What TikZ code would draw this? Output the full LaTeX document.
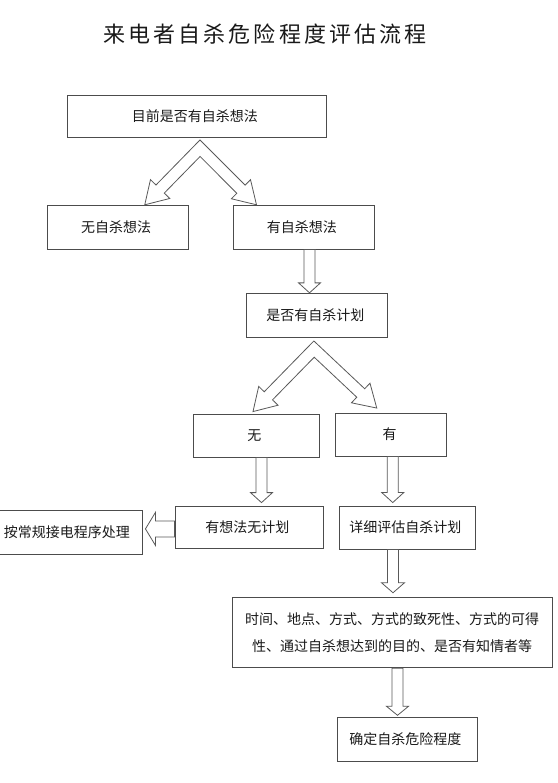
\documentclass[tikz,border=0pt]{standalone}
\usepackage{fontspec}
\newfontfamily\cjk{Noto Sans CJK SC}
\usetikzlibrary{calc}

% hollow block arrow: start, tip, half shaft, half head, head length
\newcommand{\blockarrow}[5]{%
  \coordinate (hb) at ($(#2)!#5!(#1)$);
  \draw [arrowbody] ($(#1)!#3!90:(#2)$) -- ($(hb)!#3!90:(#2)$) -- ($(hb)!#4!90:(#2)$) -- (#2)
    -- ($(hb)!#4!-90:(#2)$) -- ($(hb)!#3!-90:(#2)$) -- ($(#1)!#3!-90:(#2)$) -- cycle;
}

% two hollow arrows from one apex: apex, left tip, right tip
\newcommand{\forkarrow}[3]{%
  \coordinate (hl) at ($(#2)!22pt!(#1)$);
  \coordinate (hr) at ($(#3)!22pt!(#1)$);
  \coordinate (lo0) at ($(#1)!5.8pt!-90:(#2)$);
  \coordinate (lo1) at ($(hl)!5.8pt!-90:(#2)$);
  \coordinate (lo2) at ($(hl)!13.5pt!-90:(#2)$);
  \coordinate (li0) at ($(#1)!5.8pt!90:(#2)$);
  \coordinate (li1) at ($(hl)!5.8pt!90:(#2)$);
  \coordinate (li2) at ($(hl)!13.5pt!90:(#2)$);
  \coordinate (ro0) at ($(#1)!5.8pt!90:(#3)$);
  \coordinate (ro1) at ($(hr)!5.8pt!90:(#3)$);
  \coordinate (ro2) at ($(hr)!13.5pt!90:(#3)$);
  \coordinate (ri0) at ($(#1)!5.8pt!-90:(#3)$);
  \coordinate (ri1) at ($(hr)!5.8pt!-90:(#3)$);
  \coordinate (ri2) at ($(hr)!13.5pt!-90:(#3)$);
  \coordinate (outer) at (intersection of lo0--lo1 and ro0--ro1);
  \coordinate (inner) at (intersection of li0--li1 and ri0--ri1);
  \draw [arrowbody] (outer) -- (lo1) -- (lo2) -- (#2) -- (li2) -- (li1) -- (inner)
    -- (ri1) -- (ri2) -- (#3) -- (ro2) -- (ro1) -- cycle;
}

\begin{document}
\begin{tikzpicture}[x = 1pt, y = -1pt,
  every node/.style = {font = \cjk\fontsize{14}{14}\selectfont, text = black!90, inner sep = 2pt, align = center},
  box/.style = {draw = black!70, line width = 0.9pt},
  arrowbody/.style = {draw = black!65, line width = 0.8pt, fill = white}]

  \useasboundingbox (0, 0) rectangle (557, 783);
  \clip (0, 0) rectangle (557, 783);

  \node [font = \cjk\fontsize{22}{22}\selectfont\addfontfeature{LetterSpace=14}] (title) at (269, 34) { 来电者自杀危险程度评估流程 };

  \node [box, minimum width = 259pt, minimum height = 42.7pt] (q1) at (196.5, 116.4) { 目前是否有自杀想法 };

  \node [box, minimum width = 140.5pt, minimum height = 43.3pt] (no) at (117.75, 227.4) { 无自杀想法 };
  \node [box, minimum width = 141pt, minimum height = 43.3pt] (yes) at (303.5, 227.4) { 有自杀想法 };

  \node [box, minimum width = 141pt, minimum height = 44pt] (q2) at (317, 315.3) { 是否有自杀计划 };

  \node [box, minimum width = 126pt, minimum height = 43pt] (noplan) at (256, 435.5) { 无 };
  \node [box, minimum width = 111pt, minimum height = 43pt] (hasplan) at (391.25, 434.5) { 有 };

  \node [box, minimum width = 148pt, minimum height = 42.7pt] (thought) at (249, 527.4) { 有想法无计划 };
  \node [box, minimum width = 136pt, minimum height = 43pt] (assess) at (407, 527.5) { 详细评估自杀计划 };
  \node [box, minimum width = 147pt, minimum height = 43.3pt] (routine) at (68.5, 532.3) { 按常规接电程序处理 };

  \node [box, minimum width = 320pt, minimum height = 70pt, font = \cjk\fontsize{14}{27.3}\selectfont] (detail) at (392.2, 632.7)
    { 时间、地点、方式、方式的致死性、方式的可得\\性、通过自杀想达到的目的、是否有知情者等 };

  \node [box, minimum width = 140pt, minimum height = 43.3pt] (level) at (407, 739.4) { 确定自杀危险程度 };

  % first split
  \coordinate (m1) at ($(q1.south) + (3.5, 10)$);
  \coordinate (t1l) at ($(no.north) + (27, -0.5)$);
  \coordinate (t1r) at ($(yes.north) + (-47, -0.5)$);
  \forkarrow{m1}{t1l}{t1r}

  \coordinate (a1) at ($(yes.south) + (6, 0)$);
  \coordinate (b1) at (a1 |- q2.north);
  \blockarrow{a1}{b1}{5.5pt}{11pt}{10pt}

  % second split
  \coordinate (m2) at ($(q2.south) + (-3, 11.3)$);
  \coordinate (t2l) at ($(noplan.north) + (-3, -2)$);
  \coordinate (t2r) at ($(hasplan.north) + (-14.5, -4.5)$);
  \forkarrow{m2}{t2l}{t2r}

  \coordinate (a2) at ($(noplan.south) + (5.5, 0)$);
  \coordinate (b2) at ($(a2 |- thought.north) + (0, -3)$);
  \blockarrow{a2}{b2}{5.5pt}{11pt}{10pt}

  \coordinate (a3) at ($(hasplan.south) + (1.5, 0)$);
  \coordinate (b3) at ($(a3 |- assess.north) + (0, -3)$);
  \blockarrow{a3}{b3}{5.5pt}{11pt}{10pt}

  \coordinate (a4) at ($(thought.west) + (0, 1.5)$);
  \coordinate (b4) at ($(a4 -| routine.east) + (3, 0)$);
  \blockarrow{a4}{b4}{8pt}{16.5pt}{10pt}

  \coordinate (a5) at ($(assess.south) + (-14, 0)$);
  \coordinate (b5) at ($(a5 |- detail.north) + (0, -4.5)$);
  \blockarrow{a5}{b5}{5.5pt}{11.5pt}{10pt}

  \coordinate (a6) at ($(detail.south) + (5.3, 0)$);
  \coordinate (b6) at ($(a6 |- level.north) + (0, -2)$);
  \blockarrow{a6}{b6}{5.5pt}{11pt}{9pt}

\end{tikzpicture}
\end{document}
